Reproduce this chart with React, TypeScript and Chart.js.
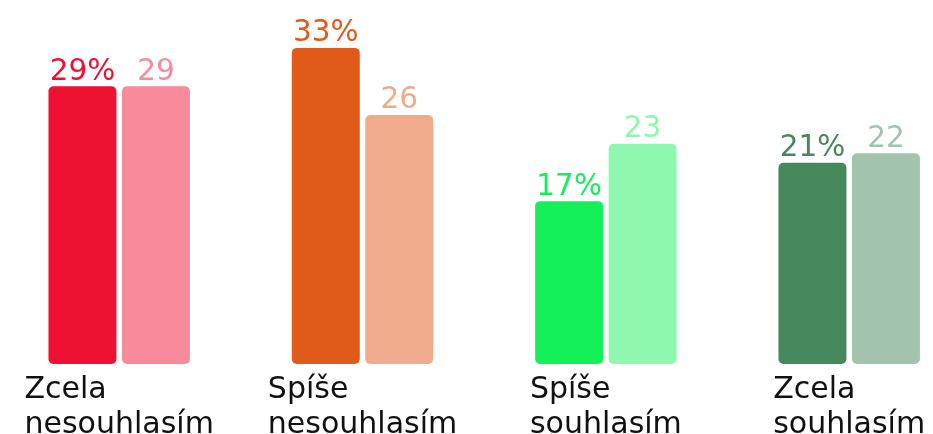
import React, { useEffect, useRef } from "react";
import { Chart, registerables } from "chart.js";

Chart.register(...registerables);

const categories: string[][] = [
  ["Zcela", "nesouhlasím"],
  ["Spíše", "nesouhlasím"],
  ["Spíše", "souhlasím"],
  ["Zcela", "souhlasím"],
];
const percentValues: number[] = [29, 33, 17, 21];
const compareValues: number[] = [29, 26, 23, 22];
const darkColors: string[] = ["#EE1133", "#E05A1A", "#14F05A", "#46875C"];
const lightColors: string[] = ["#F78A9B", "#F0AB8C", "#8EF8AE", "#A2C4AE"];

const FONT = '"DejaVu Sans", Verdana, sans-serif';

const labelPlugin = {
  id: "customLabels",
  afterDatasetsDraw(chart: any) {
    const ctx = chart.ctx;
    ctx.save();
    ctx.font = `29.5px ${FONT}`;
    ctx.textAlign = "center";
    ctx.textBaseline = "alphabetic";
    chart.data.datasets.forEach((ds: any, di: number) => {
      const meta = chart.getDatasetMeta(di);
      meta.data.forEach((el: any, i: number) => {
        const v = ds.data[i];
        ctx.fillStyle = (ds.backgroundColor as string[])[i];
        ctx.fillText(di === 0 ? `${v}%` : `${v}`, el.x, el.y - 6.5);
      });
    });
    // category labels: block centered, lines left-aligned
    const xScale = chart.scales.x;
    const bottom = chart.chartArea.bottom;
    ctx.font = `30px ${FONT}`;
    ctx.fillStyle = "#111111";
    ctx.textAlign = "left";
    categories.forEach((lines, i) => {
      const cx = xScale.getPixelForValue(i);
      const w = Math.max(...lines.map((l) => ctx.measureText(l).width));
      const left = cx - w / 2;
      lines.forEach((line, k) => {
        ctx.fillText(line, left, bottom + 34 + k * 35);
      });
    });
    ctx.restore();
  },
};

export default function App() {
  const ref = useRef<HTMLCanvasElement | null>(null);
  useEffect(() => {
    if (!ref.current) return;
    const chart = new Chart(ref.current, {
      type: "bar",
      data: {
        labels: categories.map((c) => c.join(" ")),
        datasets: [
          {
            data: percentValues,
            backgroundColor: darkColors,
            borderRadius: 5,
            borderSkipped: false,
            categoryPercentage: 0.604,
            barPercentage: 0.925,
            clip: false,
          },
          {
            data: compareValues,
            backgroundColor: lightColors,
            borderRadius: 5,
            borderSkipped: false,
            categoryPercentage: 0.604,
            barPercentage: 0.925,
            clip: false,
          },
        ],
      },
      options: {
        animation: false,
        responsive: false,
        layout: { padding: { left: 119.2, right: 83.8, top: 0, bottom: 70 } },
        plugins: {
          legend: { display: false },
          tooltip: { enabled: false },
        },
        scales: {
          x: {
            display: false,
            offset: false,
            grid: { display: false, offset: false },
          },
          y: {
            display: false,
            min: 0,
            max: 38,
          },
        },
      },
      plugins: [labelPlugin],
    });
    return () => chart.destroy();
  }, []);
  return (
    <div style={{ position: "absolute", left: 0, top: 0, width: 933, height: 434, background: "#fff" }}>
      <canvas ref={ref} width={933} height={434} style={{ display: "block" }} />
    </div>
  );
}
